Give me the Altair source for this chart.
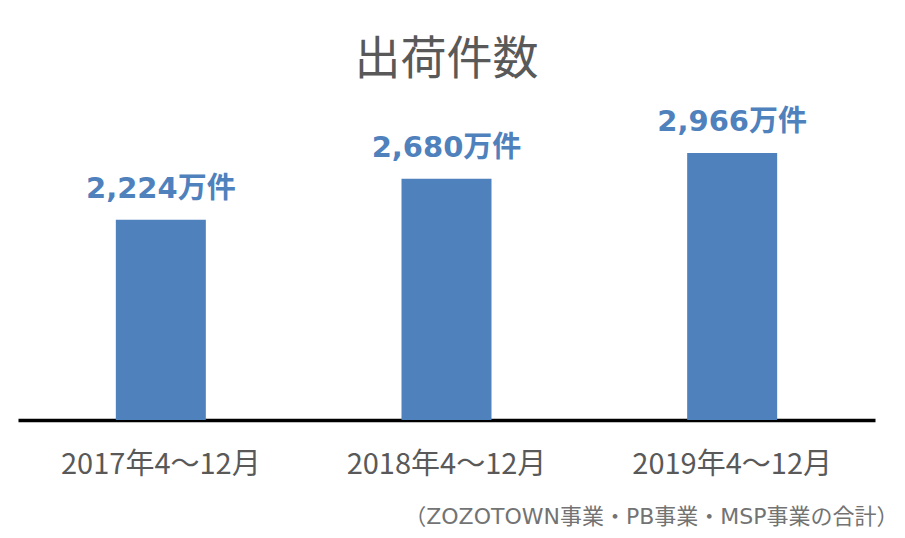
import altair as alt
import pandas as pd

categories = ["2017年4～12月", "2018年4～12月", "2019年4～12月"]
values = [2224, 2680, 2966]
labels = [f"{v:,}万件" for v in values]
title_text = "出荷件数"
note_text = "（ZOZOTOWN事業・PB事業・MSP事業の合計）"

df = pd.DataFrame({"cat": categories, "val": values, "label": labels})

FONT = "Noto Sans CJK JP"
LATIN = "DejaVu Sans, Noto Sans CJK JP"
BLUE = "#4F81BD"
GRAY = "#595959"
NOTE_GRAY = "#737373"

x = alt.X("cat:N", sort=categories,
          scale=alt.Scale(paddingInner=0, paddingOuter=0),
          axis=alt.Axis(title=note_text, labelAngle=0, labelFontSize=29,
                        labelColor=GRAY, labelFont=FONT, labelPadding=30,
                        labelLimit=0, titleLimit=0,
                        ticks=False, domainColor="#000000", domainWidth=3.5,
                        titleFont=LATIN, titleFontSize=22, titleFontWeight="normal",
                        titleColor=NOTE_GRAY, titleAlign="right", titleAnchor="end",
                        titleX=880, titleY=108, titleBaseline="bottom"))
y = alt.Y("val:Q", scale=alt.Scale(domain=[0, 3333], nice=False),
          axis=None)

bars = alt.Chart(df).mark_bar(size=90, color=BLUE).encode(x=x, y=y)
text = alt.Chart(df).mark_text(baseline="alphabetic", dy=-22, font=LATIN,
                               fontSize=29, fontWeight="bold", color=BLUE).encode(
    x=x, y=y, text="label:N")

chart = (bars + text).properties(
    width=857, height=300,
    autosize=alt.AutoSizeParams(type="none"),
    padding={"left": 10, "top": 112, "right": 22, "bottom": 110},
    title=alt.TitleParams(title_text, font=FONT, fontSize=46, fontWeight="normal",
                          color=GRAY, anchor="middle", offset=24),
).configure(background="white").configure_view(strokeWidth=0, stroke=None)

chart.save("out.html", embed_options={"renderer": "svg", "actions": False})
